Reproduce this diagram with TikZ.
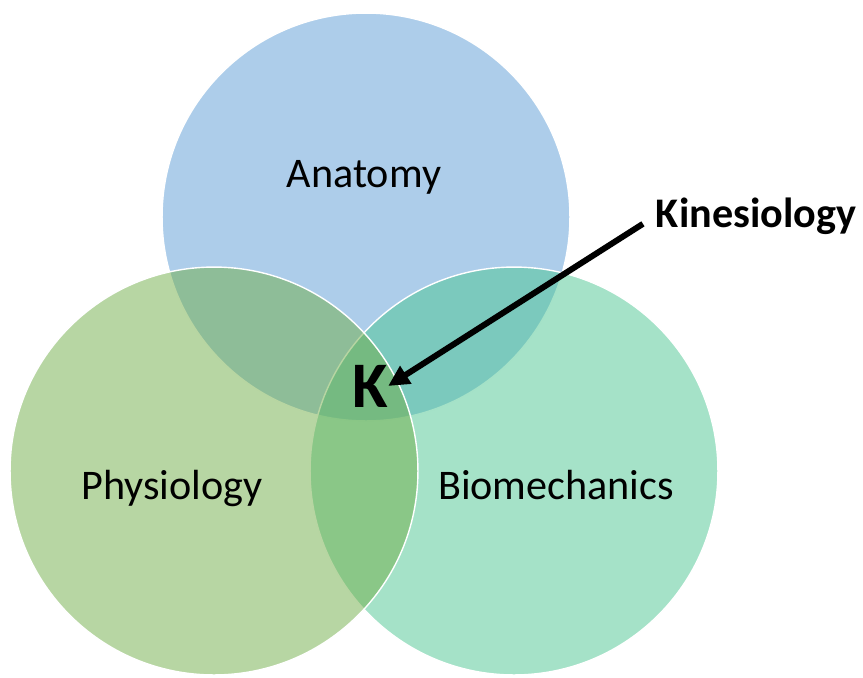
\documentclass[tikz,border=0pt]{standalone}
\usepackage{fontspec}
\setmainfont{Carlito}
\usepackage{tikz}
\usetikzlibrary{arrows.meta}
\definecolor{anaBlue}{RGB}{91,155,213}
\definecolor{physGreen}{RGB}{112,173,71}
\definecolor{bioTeal}{RGB}{75,197,145}

\begin{document}
\begin{tikzpicture}[x=0.02cm,y=-0.02cm,
  venn/.style={draw=white,line width=0.8pt,fill opacity=0.5},
  lbl/.style={inner sep=0pt,anchor=base,font=\fontsize{24}{28}\selectfont}]
\useasboundingbox (0,0) rectangle (863,677);
% the three sets
\filldraw[venn,fill=anaBlue] (366,217) circle[radius=4.08cm];
\filldraw[venn,fill=bioTeal] (514,471) circle[radius=4.08cm];
\filldraw[venn,fill=physGreen] (214,471) circle[radius=4.08cm];
\node[lbl] (anat) at (364,187) {Anatomy};
\node[lbl] (phys) at (172,499) {Physiology};
\node[lbl] (biom) at (556,499) {Biomechanics};
% centre and pointer
\node[inner sep=0pt,font=\fontsize{37}{40}\selectfont\bfseries] (k) at (370,386) {K};
\node[lbl,font=\fontsize{24}{28}\selectfont\bfseries] (kin) at (756,227) {Kinesiology};
\draw[line width=3.4pt,shorten <=0.3cm,-{Triangle[length=0.42cm,width=0.4cm]}] (kin.west) -- (k.east);
\end{tikzpicture}
\end{document}
